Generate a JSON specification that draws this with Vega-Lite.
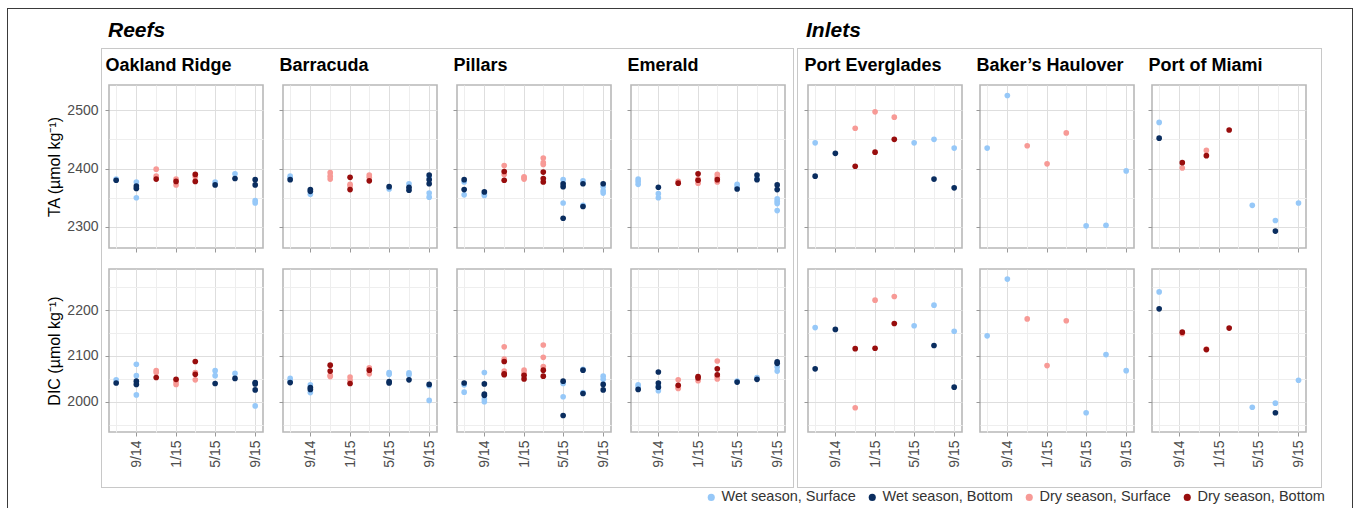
{
  "$schema": "https://vega.github.io/schema/vega-lite/v6.json",
  "padding": {"left": 7, "top": 8, "right": 0, "bottom": 0},
  "background": "white",
  "config": {
    "font": "Liberation Sans",
    "view": {"stroke": "#b8b8b8", "strokeWidth": 1.6},
    "axis": {"domain": false, "tickColor": "#999999", "tickSize": 4, "tickWidth": 1, "labelFontSize": 14, "labelColor": "#4d4d4d", "titleFontSize": 16, "titleFontWeight": "normal", "titleColor": "#000000", "gridWidth": 1, "labelFlush": false, "labelOverlap": false},
    "axisX": {"labelPadding": 4},
    "axisY": {"labelPadding": 6, "titlePadding": 4}
  },
  "datasets": {
    "pts": [
      {"site":"OR","param":"TA","date":"2014-07-01","type":"WS","value":2382},
      {"site":"OR","param":"TA","date":"2014-07-01","type":"WB","value":2380},
      {"site":"OR","param":"TA","date":"2014-09-01","type":"WS","value":2377},
      {"site":"OR","param":"TA","date":"2014-09-01","type":"WS","value":2350},
      {"site":"OR","param":"TA","date":"2014-09-01","type":"WB","value":2370},
      {"site":"OR","param":"TA","date":"2014-09-01","type":"WB","value":2366},
      {"site":"OR","param":"TA","date":"2014-11-01","type":"DS","value":2399},
      {"site":"OR","param":"TA","date":"2014-11-01","type":"DS","value":2387},
      {"site":"OR","param":"TA","date":"2014-11-01","type":"DB","value":2382},
      {"site":"OR","param":"TA","date":"2015-01-01","type":"DS","value":2382},
      {"site":"OR","param":"TA","date":"2015-01-01","type":"DS","value":2372},
      {"site":"OR","param":"TA","date":"2015-01-01","type":"DB","value":2378},
      {"site":"OR","param":"TA","date":"2015-03-01","type":"DS","value":2386},
      {"site":"OR","param":"TA","date":"2015-03-01","type":"DB","value":2390},
      {"site":"OR","param":"TA","date":"2015-03-01","type":"DB","value":2378},
      {"site":"OR","param":"TA","date":"2015-05-01","type":"WS","value":2377},
      {"site":"OR","param":"TA","date":"2015-05-01","type":"WB","value":2372},
      {"site":"OR","param":"TA","date":"2015-07-01","type":"WS","value":2391},
      {"site":"OR","param":"TA","date":"2015-07-01","type":"WB","value":2383},
      {"site":"OR","param":"TA","date":"2015-09-01","type":"WS","value":2345},
      {"site":"OR","param":"TA","date":"2015-09-01","type":"WS","value":2341},
      {"site":"OR","param":"TA","date":"2015-09-01","type":"WB","value":2381},
      {"site":"OR","param":"TA","date":"2015-09-01","type":"WB","value":2372},
      {"site":"BA","param":"TA","date":"2014-07-01","type":"WS","value":2387},
      {"site":"BA","param":"TA","date":"2014-07-01","type":"WS","value":2384},
      {"site":"BA","param":"TA","date":"2014-07-01","type":"WB","value":2381},
      {"site":"BA","param":"TA","date":"2014-09-01","type":"WS","value":2356},
      {"site":"BA","param":"TA","date":"2014-09-01","type":"WB","value":2364},
      {"site":"BA","param":"TA","date":"2014-09-01","type":"WB","value":2361},
      {"site":"BA","param":"TA","date":"2014-11-01","type":"DS","value":2393},
      {"site":"BA","param":"TA","date":"2014-11-01","type":"DS","value":2387},
      {"site":"BA","param":"TA","date":"2014-11-01","type":"DS","value":2382},
      {"site":"BA","param":"TA","date":"2015-01-01","type":"DS","value":2373},
      {"site":"BA","param":"TA","date":"2015-01-01","type":"DS","value":2370},
      {"site":"BA","param":"TA","date":"2015-01-01","type":"DB","value":2385},
      {"site":"BA","param":"TA","date":"2015-01-01","type":"DB","value":2364},
      {"site":"BA","param":"TA","date":"2015-03-01","type":"DS","value":2389},
      {"site":"BA","param":"TA","date":"2015-03-01","type":"DS","value":2385},
      {"site":"BA","param":"TA","date":"2015-03-01","type":"DB","value":2379},
      {"site":"BA","param":"TA","date":"2015-05-01","type":"WS","value":2365},
      {"site":"BA","param":"TA","date":"2015-05-01","type":"WB","value":2369},
      {"site":"BA","param":"TA","date":"2015-07-01","type":"WS","value":2374},
      {"site":"BA","param":"TA","date":"2015-07-01","type":"WB","value":2368},
      {"site":"BA","param":"TA","date":"2015-07-01","type":"WB","value":2363},
      {"site":"BA","param":"TA","date":"2015-09-01","type":"WS","value":2386},
      {"site":"BA","param":"TA","date":"2015-09-01","type":"WS","value":2358},
      {"site":"BA","param":"TA","date":"2015-09-01","type":"WS","value":2351},
      {"site":"BA","param":"TA","date":"2015-09-01","type":"WB","value":2389},
      {"site":"BA","param":"TA","date":"2015-09-01","type":"WB","value":2381},
      {"site":"BA","param":"TA","date":"2015-09-01","type":"WB","value":2374},
      {"site":"PI","param":"TA","date":"2014-07-01","type":"WS","value":2377},
      {"site":"PI","param":"TA","date":"2014-07-01","type":"WS","value":2355},
      {"site":"PI","param":"TA","date":"2014-07-01","type":"WB","value":2381},
      {"site":"PI","param":"TA","date":"2014-07-01","type":"WB","value":2364},
      {"site":"PI","param":"TA","date":"2014-09-01","type":"WS","value":2357},
      {"site":"PI","param":"TA","date":"2014-09-01","type":"WS","value":2354},
      {"site":"PI","param":"TA","date":"2014-09-01","type":"WB","value":2360},
      {"site":"PI","param":"TA","date":"2014-11-01","type":"DS","value":2405},
      {"site":"PI","param":"TA","date":"2014-11-01","type":"DS","value":2390},
      {"site":"PI","param":"TA","date":"2014-11-01","type":"DB","value":2395},
      {"site":"PI","param":"TA","date":"2014-11-01","type":"DB","value":2380},
      {"site":"PI","param":"TA","date":"2015-01-01","type":"DS","value":2386},
      {"site":"PI","param":"TA","date":"2015-01-01","type":"DS","value":2384},
      {"site":"PI","param":"TA","date":"2015-01-01","type":"DS","value":2382},
      {"site":"PI","param":"TA","date":"2015-03-01","type":"DS","value":2418},
      {"site":"PI","param":"TA","date":"2015-03-01","type":"DS","value":2410},
      {"site":"PI","param":"TA","date":"2015-03-01","type":"DS","value":2407},
      {"site":"PI","param":"TA","date":"2015-03-01","type":"DB","value":2394},
      {"site":"PI","param":"TA","date":"2015-03-01","type":"DB","value":2383},
      {"site":"PI","param":"TA","date":"2015-03-01","type":"DB","value":2377},
      {"site":"PI","param":"TA","date":"2015-05-01","type":"WS","value":2381},
      {"site":"PI","param":"TA","date":"2015-05-01","type":"WS","value":2341},
      {"site":"PI","param":"TA","date":"2015-05-01","type":"WB","value":2374},
      {"site":"PI","param":"TA","date":"2015-05-01","type":"WB","value":2369},
      {"site":"PI","param":"TA","date":"2015-05-01","type":"WB","value":2315},
      {"site":"PI","param":"TA","date":"2015-07-01","type":"WS","value":2379},
      {"site":"PI","param":"TA","date":"2015-07-01","type":"WS","value":2337},
      {"site":"PI","param":"TA","date":"2015-07-01","type":"WB","value":2374},
      {"site":"PI","param":"TA","date":"2015-07-01","type":"WB","value":2335},
      {"site":"PI","param":"TA","date":"2015-09-01","type":"WS","value":2369},
      {"site":"PI","param":"TA","date":"2015-09-01","type":"WS","value":2362},
      {"site":"PI","param":"TA","date":"2015-09-01","type":"WS","value":2358},
      {"site":"PI","param":"TA","date":"2015-09-01","type":"WB","value":2374},
      {"site":"EM","param":"TA","date":"2014-07-01","type":"WS","value":2382},
      {"site":"EM","param":"TA","date":"2014-07-01","type":"WS","value":2378},
      {"site":"EM","param":"TA","date":"2014-07-01","type":"WS","value":2373},
      {"site":"EM","param":"TA","date":"2014-09-01","type":"WS","value":2357},
      {"site":"EM","param":"TA","date":"2014-09-01","type":"WS","value":2350},
      {"site":"EM","param":"TA","date":"2014-09-01","type":"WB","value":2368},
      {"site":"EM","param":"TA","date":"2014-11-01","type":"DS","value":2378},
      {"site":"EM","param":"TA","date":"2014-11-01","type":"DB","value":2375},
      {"site":"EM","param":"TA","date":"2015-01-01","type":"DS","value":2382},
      {"site":"EM","param":"TA","date":"2015-01-01","type":"DS","value":2375},
      {"site":"EM","param":"TA","date":"2015-01-01","type":"DB","value":2391},
      {"site":"EM","param":"TA","date":"2015-01-01","type":"DB","value":2380},
      {"site":"EM","param":"TA","date":"2015-03-01","type":"DS","value":2390},
      {"site":"EM","param":"TA","date":"2015-03-01","type":"DS","value":2385},
      {"site":"EM","param":"TA","date":"2015-03-01","type":"DS","value":2377},
      {"site":"EM","param":"TA","date":"2015-03-01","type":"DB","value":2381},
      {"site":"EM","param":"TA","date":"2015-05-01","type":"WS","value":2373},
      {"site":"EM","param":"TA","date":"2015-05-01","type":"WS","value":2369},
      {"site":"EM","param":"TA","date":"2015-05-01","type":"WB","value":2365},
      {"site":"EM","param":"TA","date":"2015-07-01","type":"WS","value":2383},
      {"site":"EM","param":"TA","date":"2015-07-01","type":"WB","value":2389},
      {"site":"EM","param":"TA","date":"2015-07-01","type":"WB","value":2381},
      {"site":"EM","param":"TA","date":"2015-09-01","type":"WS","value":2348},
      {"site":"EM","param":"TA","date":"2015-09-01","type":"WS","value":2344},
      {"site":"EM","param":"TA","date":"2015-09-01","type":"WS","value":2340},
      {"site":"EM","param":"TA","date":"2015-09-01","type":"WS","value":2328},
      {"site":"EM","param":"TA","date":"2015-09-01","type":"WB","value":2372},
      {"site":"EM","param":"TA","date":"2015-09-01","type":"WB","value":2364},
      {"site":"PE","param":"TA","date":"2014-07-01","type":"WS","value":2444},
      {"site":"PE","param":"TA","date":"2014-07-01","type":"WB","value":2387},
      {"site":"PE","param":"TA","date":"2014-09-01","type":"WB","value":2426},
      {"site":"PE","param":"TA","date":"2014-11-01","type":"DS","value":2469},
      {"site":"PE","param":"TA","date":"2014-11-01","type":"DB","value":2404},
      {"site":"PE","param":"TA","date":"2015-01-01","type":"DS","value":2497},
      {"site":"PE","param":"TA","date":"2015-01-01","type":"DB","value":2428},
      {"site":"PE","param":"TA","date":"2015-03-01","type":"DS","value":2488},
      {"site":"PE","param":"TA","date":"2015-03-01","type":"DB","value":2450},
      {"site":"PE","param":"TA","date":"2015-05-01","type":"WS","value":2444},
      {"site":"PE","param":"TA","date":"2015-07-01","type":"WS","value":2450},
      {"site":"PE","param":"TA","date":"2015-07-01","type":"WB","value":2382},
      {"site":"PE","param":"TA","date":"2015-09-01","type":"WS","value":2435},
      {"site":"PE","param":"TA","date":"2015-09-01","type":"WB","value":2367},
      {"site":"BH","param":"TA","date":"2014-07-01","type":"WS","value":2435},
      {"site":"BH","param":"TA","date":"2014-09-01","type":"WS","value":2525},
      {"site":"BH","param":"TA","date":"2014-11-01","type":"DS","value":2439},
      {"site":"BH","param":"TA","date":"2015-01-01","type":"DS","value":2408},
      {"site":"BH","param":"TA","date":"2015-03-01","type":"DS","value":2461},
      {"site":"BH","param":"TA","date":"2015-05-01","type":"WS","value":2302},
      {"site":"BH","param":"TA","date":"2015-07-01","type":"WS","value":2303},
      {"site":"BH","param":"TA","date":"2015-09-01","type":"WS","value":2396},
      {"site":"PM","param":"TA","date":"2014-07-01","type":"WS","value":2479},
      {"site":"PM","param":"TA","date":"2014-07-01","type":"WB","value":2452},
      {"site":"PM","param":"TA","date":"2014-09-10","type":"DS","value":2401},
      {"site":"PM","param":"TA","date":"2014-09-10","type":"DB","value":2410},
      {"site":"PM","param":"TA","date":"2014-11-23","type":"DS","value":2431},
      {"site":"PM","param":"TA","date":"2014-11-23","type":"DB","value":2422},
      {"site":"PM","param":"TA","date":"2015-02-01","type":"DB","value":2466},
      {"site":"PM","param":"TA","date":"2015-04-13","type":"WS","value":2337},
      {"site":"PM","param":"TA","date":"2015-06-23","type":"WS","value":2311},
      {"site":"PM","param":"TA","date":"2015-06-23","type":"WB","value":2293},
      {"site":"PM","param":"TA","date":"2015-09-02","type":"WS","value":2341},
      {"site":"OR","param":"DIC","date":"2014-07-01","type":"WS","value":2048},
      {"site":"OR","param":"DIC","date":"2014-07-01","type":"WB","value":2041},
      {"site":"OR","param":"DIC","date":"2014-09-01","type":"WS","value":2082},
      {"site":"OR","param":"DIC","date":"2014-09-01","type":"WS","value":2057},
      {"site":"OR","param":"DIC","date":"2014-09-01","type":"WS","value":2015},
      {"site":"OR","param":"DIC","date":"2014-09-01","type":"WB","value":2045},
      {"site":"OR","param":"DIC","date":"2014-09-01","type":"WB","value":2038},
      {"site":"OR","param":"DIC","date":"2014-11-01","type":"DS","value":2068},
      {"site":"OR","param":"DIC","date":"2014-11-01","type":"DS","value":2064},
      {"site":"OR","param":"DIC","date":"2014-11-01","type":"DB","value":2053},
      {"site":"OR","param":"DIC","date":"2015-01-01","type":"DS","value":2044},
      {"site":"OR","param":"DIC","date":"2015-01-01","type":"DS","value":2038},
      {"site":"OR","param":"DIC","date":"2015-01-01","type":"DB","value":2049},
      {"site":"OR","param":"DIC","date":"2015-03-01","type":"DS","value":2064},
      {"site":"OR","param":"DIC","date":"2015-03-01","type":"DS","value":2048},
      {"site":"OR","param":"DIC","date":"2015-03-01","type":"DB","value":2088},
      {"site":"OR","param":"DIC","date":"2015-03-01","type":"DB","value":2060},
      {"site":"OR","param":"DIC","date":"2015-05-01","type":"WS","value":2068},
      {"site":"OR","param":"DIC","date":"2015-05-01","type":"WS","value":2057},
      {"site":"OR","param":"DIC","date":"2015-05-01","type":"WB","value":2040},
      {"site":"OR","param":"DIC","date":"2015-07-01","type":"WS","value":2062},
      {"site":"OR","param":"DIC","date":"2015-07-01","type":"WB","value":2051},
      {"site":"OR","param":"DIC","date":"2015-09-01","type":"WS","value":1991},
      {"site":"OR","param":"DIC","date":"2015-09-01","type":"WB","value":2042},
      {"site":"OR","param":"DIC","date":"2015-09-01","type":"WB","value":2039},
      {"site":"OR","param":"DIC","date":"2015-09-01","type":"WB","value":2026},
      {"site":"BA","param":"DIC","date":"2014-07-01","type":"WS","value":2051},
      {"site":"BA","param":"DIC","date":"2014-07-01","type":"WS","value":2046},
      {"site":"BA","param":"DIC","date":"2014-07-01","type":"WB","value":2042},
      {"site":"BA","param":"DIC","date":"2014-09-01","type":"WS","value":2037},
      {"site":"BA","param":"DIC","date":"2014-09-01","type":"WS","value":2020},
      {"site":"BA","param":"DIC","date":"2014-09-01","type":"WB","value":2031},
      {"site":"BA","param":"DIC","date":"2014-09-01","type":"WB","value":2027},
      {"site":"BA","param":"DIC","date":"2014-11-01","type":"DS","value":2055},
      {"site":"BA","param":"DIC","date":"2014-11-01","type":"DS","value":2058},
      {"site":"BA","param":"DIC","date":"2014-11-01","type":"DB","value":2080},
      {"site":"BA","param":"DIC","date":"2014-11-01","type":"DB","value":2067},
      {"site":"BA","param":"DIC","date":"2015-01-01","type":"DS","value":2054},
      {"site":"BA","param":"DIC","date":"2015-01-01","type":"DS","value":2047},
      {"site":"BA","param":"DIC","date":"2015-01-01","type":"DB","value":2040},
      {"site":"BA","param":"DIC","date":"2015-03-01","type":"DS","value":2074},
      {"site":"BA","param":"DIC","date":"2015-03-01","type":"DS","value":2061},
      {"site":"BA","param":"DIC","date":"2015-03-01","type":"DB","value":2069},
      {"site":"BA","param":"DIC","date":"2015-05-01","type":"WS","value":2064},
      {"site":"BA","param":"DIC","date":"2015-05-01","type":"WS","value":2060},
      {"site":"BA","param":"DIC","date":"2015-05-01","type":"WB","value":2044},
      {"site":"BA","param":"DIC","date":"2015-05-01","type":"WB","value":2041},
      {"site":"BA","param":"DIC","date":"2015-07-01","type":"WS","value":2063},
      {"site":"BA","param":"DIC","date":"2015-07-01","type":"WS","value":2059},
      {"site":"BA","param":"DIC","date":"2015-07-01","type":"WB","value":2048},
      {"site":"BA","param":"DIC","date":"2015-09-01","type":"WS","value":2035},
      {"site":"BA","param":"DIC","date":"2015-09-01","type":"WS","value":2003},
      {"site":"BA","param":"DIC","date":"2015-09-01","type":"WB","value":2038},
      {"site":"PI","param":"DIC","date":"2014-07-01","type":"WS","value":2037},
      {"site":"PI","param":"DIC","date":"2014-07-01","type":"WS","value":2021},
      {"site":"PI","param":"DIC","date":"2014-07-01","type":"WB","value":2041},
      {"site":"PI","param":"DIC","date":"2014-09-01","type":"WS","value":2064},
      {"site":"PI","param":"DIC","date":"2014-09-01","type":"WS","value":2006},
      {"site":"PI","param":"DIC","date":"2014-09-01","type":"WS","value":2000},
      {"site":"PI","param":"DIC","date":"2014-09-01","type":"WB","value":2039},
      {"site":"PI","param":"DIC","date":"2014-09-01","type":"WB","value":2017},
      {"site":"PI","param":"DIC","date":"2014-09-01","type":"WB","value":2014},
      {"site":"PI","param":"DIC","date":"2014-11-01","type":"DS","value":2120},
      {"site":"PI","param":"DIC","date":"2014-11-01","type":"DS","value":2093},
      {"site":"PI","param":"DIC","date":"2014-11-01","type":"DS","value":2067},
      {"site":"PI","param":"DIC","date":"2014-11-01","type":"DB","value":2088},
      {"site":"PI","param":"DIC","date":"2014-11-01","type":"DB","value":2061},
      {"site":"PI","param":"DIC","date":"2014-11-01","type":"DB","value":2059},
      {"site":"PI","param":"DIC","date":"2015-01-01","type":"DS","value":2069},
      {"site":"PI","param":"DIC","date":"2015-01-01","type":"DS","value":2062},
      {"site":"PI","param":"DIC","date":"2015-01-01","type":"DB","value":2058},
      {"site":"PI","param":"DIC","date":"2015-01-01","type":"DB","value":2050},
      {"site":"PI","param":"DIC","date":"2015-03-01","type":"DS","value":2124},
      {"site":"PI","param":"DIC","date":"2015-03-01","type":"DS","value":2097},
      {"site":"PI","param":"DIC","date":"2015-03-01","type":"DS","value":2077},
      {"site":"PI","param":"DIC","date":"2015-03-01","type":"DB","value":2069},
      {"site":"PI","param":"DIC","date":"2015-03-01","type":"DB","value":2056},
      {"site":"PI","param":"DIC","date":"2015-05-01","type":"WS","value":2040},
      {"site":"PI","param":"DIC","date":"2015-05-01","type":"WS","value":2011},
      {"site":"PI","param":"DIC","date":"2015-05-01","type":"WB","value":2045},
      {"site":"PI","param":"DIC","date":"2015-05-01","type":"WB","value":1970},
      {"site":"PI","param":"DIC","date":"2015-07-01","type":"WS","value":2071},
      {"site":"PI","param":"DIC","date":"2015-07-01","type":"WS","value":2020},
      {"site":"PI","param":"DIC","date":"2015-07-01","type":"WB","value":2069},
      {"site":"PI","param":"DIC","date":"2015-07-01","type":"WB","value":2018},
      {"site":"PI","param":"DIC","date":"2015-09-01","type":"WS","value":2056},
      {"site":"PI","param":"DIC","date":"2015-09-01","type":"WS","value":2049},
      {"site":"PI","param":"DIC","date":"2015-09-01","type":"WB","value":2038},
      {"site":"PI","param":"DIC","date":"2015-09-01","type":"WB","value":2026},
      {"site":"EM","param":"DIC","date":"2014-07-01","type":"WS","value":2037},
      {"site":"EM","param":"DIC","date":"2014-07-01","type":"WS","value":2033},
      {"site":"EM","param":"DIC","date":"2014-07-01","type":"WB","value":2027},
      {"site":"EM","param":"DIC","date":"2014-09-01","type":"WS","value":2034},
      {"site":"EM","param":"DIC","date":"2014-09-01","type":"WS","value":2024},
      {"site":"EM","param":"DIC","date":"2014-09-01","type":"WB","value":2065},
      {"site":"EM","param":"DIC","date":"2014-09-01","type":"WB","value":2041},
      {"site":"EM","param":"DIC","date":"2014-09-01","type":"WB","value":2032},
      {"site":"EM","param":"DIC","date":"2014-11-01","type":"DS","value":2048},
      {"site":"EM","param":"DIC","date":"2014-11-01","type":"DS","value":2032},
      {"site":"EM","param":"DIC","date":"2014-11-01","type":"DS","value":2029},
      {"site":"EM","param":"DIC","date":"2014-11-01","type":"DB","value":2036},
      {"site":"EM","param":"DIC","date":"2015-01-01","type":"DS","value":2046},
      {"site":"EM","param":"DIC","date":"2015-01-01","type":"DB","value":2055},
      {"site":"EM","param":"DIC","date":"2015-01-01","type":"DB","value":2052},
      {"site":"EM","param":"DIC","date":"2015-03-01","type":"DS","value":2089},
      {"site":"EM","param":"DIC","date":"2015-03-01","type":"DS","value":2055},
      {"site":"EM","param":"DIC","date":"2015-03-01","type":"DS","value":2050},
      {"site":"EM","param":"DIC","date":"2015-03-01","type":"DB","value":2072},
      {"site":"EM","param":"DIC","date":"2015-03-01","type":"DB","value":2059},
      {"site":"EM","param":"DIC","date":"2015-05-01","type":"WS","value":2045},
      {"site":"EM","param":"DIC","date":"2015-05-01","type":"WB","value":2043},
      {"site":"EM","param":"DIC","date":"2015-07-01","type":"WS","value":2053},
      {"site":"EM","param":"DIC","date":"2015-07-01","type":"WB","value":2049},
      {"site":"EM","param":"DIC","date":"2015-09-01","type":"WS","value":2076},
      {"site":"EM","param":"DIC","date":"2015-09-01","type":"WS","value":2067},
      {"site":"EM","param":"DIC","date":"2015-09-01","type":"WB","value":2087},
      {"site":"EM","param":"DIC","date":"2015-09-01","type":"WB","value":2084},
      {"site":"PE","param":"DIC","date":"2014-07-01","type":"WS","value":2162},
      {"site":"PE","param":"DIC","date":"2014-07-01","type":"WB","value":2072},
      {"site":"PE","param":"DIC","date":"2014-09-01","type":"WB","value":2158},
      {"site":"PE","param":"DIC","date":"2014-11-01","type":"DS","value":1987},
      {"site":"PE","param":"DIC","date":"2014-11-01","type":"DB","value":2116},
      {"site":"PE","param":"DIC","date":"2015-01-01","type":"DS","value":2222},
      {"site":"PE","param":"DIC","date":"2015-01-01","type":"DB","value":2117},
      {"site":"PE","param":"DIC","date":"2015-03-01","type":"DS","value":2230},
      {"site":"PE","param":"DIC","date":"2015-03-01","type":"DB","value":2171},
      {"site":"PE","param":"DIC","date":"2015-05-01","type":"WS","value":2166},
      {"site":"PE","param":"DIC","date":"2015-07-01","type":"WS","value":2211},
      {"site":"PE","param":"DIC","date":"2015-07-01","type":"WB","value":2123},
      {"site":"PE","param":"DIC","date":"2015-09-01","type":"WS","value":2154},
      {"site":"PE","param":"DIC","date":"2015-09-01","type":"WB","value":2032},
      {"site":"BH","param":"DIC","date":"2014-07-01","type":"WS","value":2144},
      {"site":"BH","param":"DIC","date":"2014-09-01","type":"WS","value":2268},
      {"site":"BH","param":"DIC","date":"2014-11-01","type":"DS","value":2181},
      {"site":"BH","param":"DIC","date":"2015-01-01","type":"DS","value":2079},
      {"site":"BH","param":"DIC","date":"2015-03-01","type":"DS","value":2177},
      {"site":"BH","param":"DIC","date":"2015-05-01","type":"WS","value":1976},
      {"site":"BH","param":"DIC","date":"2015-07-01","type":"WS","value":2103},
      {"site":"BH","param":"DIC","date":"2015-09-01","type":"WS","value":2068},
      {"site":"PM","param":"DIC","date":"2014-07-01","type":"WS","value":2240},
      {"site":"PM","param":"DIC","date":"2014-07-01","type":"WB","value":2203},
      {"site":"PM","param":"DIC","date":"2014-09-10","type":"DS","value":2149},
      {"site":"PM","param":"DIC","date":"2014-09-10","type":"DB","value":2152},
      {"site":"PM","param":"DIC","date":"2014-11-23","type":"DS","value":2115},
      {"site":"PM","param":"DIC","date":"2014-11-23","type":"DB","value":2114},
      {"site":"PM","param":"DIC","date":"2015-02-01","type":"DB","value":2161},
      {"site":"PM","param":"DIC","date":"2015-04-13","type":"WS","value":1988},
      {"site":"PM","param":"DIC","date":"2015-06-23","type":"WS","value":1997},
      {"site":"PM","param":"DIC","date":"2015-06-23","type":"WB","value":1976},
      {"site":"PM","param":"DIC","date":"2015-09-02","type":"WS","value":2047}
    ]
  },
  "bounds": "flush",
  "align": "each",
  "spacing": 0,
  "columns": 13,
  "concat": [
    {"width":94,"height":1,"data":{"values":[]},"mark":"point","view":{"stroke":null,"fill":"#3a3a3a"}},
    {"width":8,"height":1,"data":{"values":[]},"mark":"point","view":{"stroke":null,"fill":"#3a3a3a"}},
    {"width":174,"height":1,"data":{"values":[]},"mark":"point","view":{"stroke":null,"fill":"#3a3a3a"}},
    {"width":174,"height":1,"data":{"values":[]},"mark":"point","view":{"stroke":null,"fill":"#3a3a3a"}},
    {"width":174,"height":1,"data":{"values":[]},"mark":"point","view":{"stroke":null,"fill":"#3a3a3a"}},
    {"width":162,"height":1,"data":{"values":[]},"mark":"point","view":{"stroke":null,"fill":"#3a3a3a"}},
    {"width":4,"height":1,"data":{"values":[]},"mark":"point","view":{"stroke":null,"fill":"#3a3a3a"}},
    {"width":11,"height":1,"data":{"values":[]},"mark":"point","view":{"stroke":null,"fill":"#3a3a3a"}},
    {"width":172,"height":1,"data":{"values":[]},"mark":"point","view":{"stroke":null,"fill":"#3a3a3a"}},
    {"width":172,"height":1,"data":{"values":[]},"mark":"point","view":{"stroke":null,"fill":"#3a3a3a"}},
    {"width":169,"height":1,"data":{"values":[]},"mark":"point","view":{"stroke":null,"fill":"#3a3a3a"}},
    {"width":31,"height":1,"data":{"values":[]},"mark":"point","view":{"stroke":null,"fill":"#3a3a3a"}},
    {"width":1,"height":1,"data":{"values":[]},"mark":"point","view":{"stroke":null,"fill":"#3a3a3a"}},

    {"width":1,"height":39,"data":{"values":[]},"mark":"point","view":{"stroke":null,"fill":"#3a3a3a"}},
    {"width":1,"height":1,"data":{"values":[]},"mark":"point","view":{"stroke":null}},
    {"width":1,"height":1,"data":{"values":[]},"mark":"point","view":{"stroke":null}},
    {"width":1,"height":1,"data":{"values":[]},"mark":"point","view":{"stroke":null}},
    {"width":1,"height":1,"data":{"values":[]},"mark":"point","view":{"stroke":null}},
    {"width":1,"height":1,"data":{"values":[]},"mark":"point","view":{"stroke":null}},
    {"width":1,"height":1,"data":{"values":[]},"mark":"point","view":{"stroke":null}},
    {"width":1,"height":1,"data":{"values":[]},"mark":"point","view":{"stroke":null}},
    {"width":1,"height":1,"data":{"values":[]},"mark":"point","view":{"stroke":null}},
    {"width":1,"height":1,"data":{"values":[]},"mark":"point","view":{"stroke":null}},
    {"width":1,"height":1,"data":{"values":[]},"mark":"point","view":{"stroke":null}},
    {"width":1,"height":1,"data":{"values":[]},"mark":"point","view":{"stroke":null}},
    {"width":1,"height":39,"data":{"values":[]},"mark":"point","view":{"stroke":null,"fill":"#3a3a3a"}},

    {"width":1,"height":1,"data":{"values":[]},"mark":"point","view":{"stroke":null,"fill":"#3a3a3a"}},
    {"width":8,"height":1,"data":{"values":[]},"mark":"point","view":{"stroke":null,"fill":"#c8c8c8"},"title":{"text":"Reefs","anchor":"start","dx":7,"dy":20,"offset":10,"baseline":"alphabetic","fontSize":21,"fontWeight":"bold","fontStyle":"italic","color":"#000000","font":"Liberation Sans"}},
    {"width":174,"height":1,"data":{"values":[]},"mark":"point","view":{"stroke":null,"fill":"#c8c8c8"}},
    {"width":174,"height":1,"data":{"values":[]},"mark":"point","view":{"stroke":null,"fill":"#c8c8c8"}},
    {"width":174,"height":1,"data":{"values":[]},"mark":"point","view":{"stroke":null,"fill":"#c8c8c8"}},
    {"width":162,"height":1,"data":{"values":[]},"mark":"point","view":{"stroke":null,"fill":"#c8c8c8"}},
    {"width":1,"height":1,"data":{"values":[]},"mark":"point","view":{"stroke":null,"fill":"#c8c8c8"}},
    {"width":11,"height":1,"data":{"values":[]},"mark":"point","view":{"stroke":null,"fill":"#c8c8c8"},"title":{"text":"Inlets","anchor":"start","dx":9,"dy":20,"offset":10,"baseline":"alphabetic","fontSize":21,"fontWeight":"bold","fontStyle":"italic","color":"#000000","font":"Liberation Sans"}},
    {"width":172,"height":1,"data":{"values":[]},"mark":"point","view":{"stroke":null,"fill":"#c8c8c8"}},
    {"width":172,"height":1,"data":{"values":[]},"mark":"point","view":{"stroke":null,"fill":"#c8c8c8"}},
    {"width":169,"height":1,"data":{"values":[]},"mark":"point","view":{"stroke":null,"fill":"#c8c8c8"}},
    {"width":1,"height":1,"data":{"values":[]},"mark":"point","view":{"stroke":null,"fill":"#c8c8c8"}},
    {"width":1,"height":1,"data":{"values":[]},"mark":"point","view":{"stroke":null,"fill":"#3a3a3a"}},

    {"width":1,"height":36,"data":{"values":[]},"mark":"point","view":{"stroke":null,"fill":"#3a3a3a"}},
    {"width":1,"height":36,"data":{"values":[]},"mark":"point","view":{"stroke":null,"fill":"#c8c8c8"}},
    {"width":1,"height":1,"data":{"values":[]},"mark":"point","view":{"stroke":null}},
    {"width":1,"height":1,"data":{"values":[]},"mark":"point","view":{"stroke":null}},
    {"width":1,"height":1,"data":{"values":[]},"mark":"point","view":{"stroke":null}},
    {"width":1,"height":1,"data":{"values":[]},"mark":"point","view":{"stroke":null}},
    {"width":1,"height":36,"data":{"values":[]},"mark":"point","view":{"stroke":null,"fill":"#c8c8c8"}},
    {"width":1,"height":36,"data":{"values":[]},"mark":"point","view":{"stroke":null,"fill":"#c8c8c8"}},
    {"width":1,"height":1,"data":{"values":[]},"mark":"point","view":{"stroke":null}},
    {"width":1,"height":1,"data":{"values":[]},"mark":"point","view":{"stroke":null}},
    {"width":1,"height":1,"data":{"values":[]},"mark":"point","view":{"stroke":null}},
    {"width":1,"height":36,"data":{"values":[]},"mark":"point","view":{"stroke":null,"fill":"#c8c8c8"}},
    {"width":1,"height":36,"data":{"values":[]},"mark":"point","view":{"stroke":null,"fill":"#3a3a3a"}},

    {"width":1,"height":163,"data":{"values":[]},"mark":"point","view":{"stroke":null,"fill":"#3a3a3a"}},
    {"width":1,"height":163,"data":{"values":[]},"mark":"point","view":{"stroke":null,"fill":"#c8c8c8"},
     "encoding":{"y":{"field":"value","type":"quantitative","scale":{"domain":[2264,2543],"nice":false,"zero":false},"axis":{"values":[2300,2400,2500],"labelExpr":"format(datum.value, 'd')","ticks":false,"grid":false,"labelPadding":3,"title":"TA (µmol kg⁻¹)"}}}},
    {"width":154,"height":163,"title":{"text":"Oakland Ridge","anchor":"start","dx":1,"dy":17,"offset":13,"baseline":"alphabetic","fontSize":18,"fontWeight":"bold","color":"#000000"},"data":{"name":"pts"},"transform":[{"filter":"datum.site == 'OR' && datum.param == 'TA'"}],"mark":{"type":"circle","size":32,"opacity":1},
     "encoding":{
       "x":{"field":"date","type":"temporal","scale":{"type":"utc","domain":[{"year":2014,"month":6,"date":9,"utc":true},{"year":2015,"month":9,"date":25,"utc":true}]},"axis":{"values":[{"year":2014,"month":7,"date":1,"utc":true},{"year":2014,"month":9,"date":1,"utc":true},{"year":2014,"month":11,"date":1,"utc":true},{"year":2015,"month":1,"date":1,"utc":true},{"year":2015,"month":3,"date":1,"utc":true},{"year":2015,"month":5,"date":1,"utc":true},{"year":2015,"month":7,"date":1,"utc":true},{"year":2015,"month":9,"date":1,"utc":true}],"labels":false,"title":null,"tickOpacity":{"condition":{"test":"utcmonth(datum.value) % 4 == 0","value":1},"value":0},"gridColor":{"condition":{"test":"utcmonth(datum.value) % 4 == 0","value":"#dedede"},"value":"#eeeeee"}}},
       "y":{"field":"value","type":"quantitative","scale":{"domain":[2264,2543],"nice":false,"zero":false},"axis":{"values":[2300,2350,2400,2450,2500],"labels":false,"title":null,"tickOpacity":{"condition":{"test":"datum.value % 100 == 0","value":1},"value":0},"gridColor":{"condition":{"test":"datum.value % 100 == 0","value":"#dedede"},"value":"#eeeeee"}}},
       "color":{"field":"type","type":"nominal","title":null,"scale":{"domain":["WS","WB","DS","DB"],"range":["#96c8f8","#0a2d5f","#f79a96","#980d0d"]},"legend":{"orient":"none","legendX":697,"legendY":482,"direction":"horizontal","labelExpr":"datum.label == 'WS' ? 'Wet season, Surface' : datum.label == 'WB' ? 'Wet season, Bottom' : datum.label == 'DS' ? 'Dry season, Surface' : 'Dry season, Bottom'","symbolType":"circle","symbolSize":50,"symbolStrokeWidth":0,"labelFontSize":14.5,"labelColor":"#333333","columnPadding":9,"labelOffset":3}}}},
    {"width":154,"height":163,"title":{"text":"Barracuda","anchor":"start","dx":1,"dy":17,"offset":13,"baseline":"alphabetic","fontSize":18,"fontWeight":"bold","color":"#000000"},"data":{"name":"pts"},"transform":[{"filter":"datum.site == 'BA' && datum.param == 'TA'"}],"mark":{"type":"circle","size":32,"opacity":1},
     "encoding":{
       "x":{"field":"date","type":"temporal","scale":{"type":"utc","domain":[{"year":2014,"month":6,"date":9,"utc":true},{"year":2015,"month":9,"date":25,"utc":true}]},"axis":{"values":[{"year":2014,"month":7,"date":1,"utc":true},{"year":2014,"month":9,"date":1,"utc":true},{"year":2014,"month":11,"date":1,"utc":true},{"year":2015,"month":1,"date":1,"utc":true},{"year":2015,"month":3,"date":1,"utc":true},{"year":2015,"month":5,"date":1,"utc":true},{"year":2015,"month":7,"date":1,"utc":true},{"year":2015,"month":9,"date":1,"utc":true}],"labels":false,"title":null,"tickOpacity":{"condition":{"test":"utcmonth(datum.value) % 4 == 0","value":1},"value":0},"gridColor":{"condition":{"test":"utcmonth(datum.value) % 4 == 0","value":"#dedede"},"value":"#eeeeee"}}},
       "y":{"field":"value","type":"quantitative","scale":{"domain":[2264,2543],"nice":false,"zero":false},"axis":{"values":[2300,2350,2400,2450,2500],"labels":false,"title":null,"tickOpacity":{"condition":{"test":"datum.value % 100 == 0","value":1},"value":0},"gridColor":{"condition":{"test":"datum.value % 100 == 0","value":"#dedede"},"value":"#eeeeee"}}},
       "color":{"field":"type","type":"nominal","title":null,"scale":{"domain":["WS","WB","DS","DB"],"range":["#96c8f8","#0a2d5f","#f79a96","#980d0d"]},"legend":{"orient":"none","legendX":697,"legendY":482,"direction":"horizontal","labelExpr":"datum.label == 'WS' ? 'Wet season, Surface' : datum.label == 'WB' ? 'Wet season, Bottom' : datum.label == 'DS' ? 'Dry season, Surface' : 'Dry season, Bottom'","symbolType":"circle","symbolSize":50,"symbolStrokeWidth":0,"labelFontSize":14.5,"labelColor":"#333333","columnPadding":9,"labelOffset":3}}}},
    {"width":154,"height":163,"title":{"text":"Pillars","anchor":"start","dx":1,"dy":17,"offset":13,"baseline":"alphabetic","fontSize":18,"fontWeight":"bold","color":"#000000"},"data":{"name":"pts"},"transform":[{"filter":"datum.site == 'PI' && datum.param == 'TA'"}],"mark":{"type":"circle","size":32,"opacity":1},
     "encoding":{
       "x":{"field":"date","type":"temporal","scale":{"type":"utc","domain":[{"year":2014,"month":6,"date":9,"utc":true},{"year":2015,"month":9,"date":25,"utc":true}]},"axis":{"values":[{"year":2014,"month":7,"date":1,"utc":true},{"year":2014,"month":9,"date":1,"utc":true},{"year":2014,"month":11,"date":1,"utc":true},{"year":2015,"month":1,"date":1,"utc":true},{"year":2015,"month":3,"date":1,"utc":true},{"year":2015,"month":5,"date":1,"utc":true},{"year":2015,"month":7,"date":1,"utc":true},{"year":2015,"month":9,"date":1,"utc":true}],"labels":false,"title":null,"tickOpacity":{"condition":{"test":"utcmonth(datum.value) % 4 == 0","value":1},"value":0},"gridColor":{"condition":{"test":"utcmonth(datum.value) % 4 == 0","value":"#dedede"},"value":"#eeeeee"}}},
       "y":{"field":"value","type":"quantitative","scale":{"domain":[2264,2543],"nice":false,"zero":false},"axis":{"values":[2300,2350,2400,2450,2500],"labels":false,"title":null,"tickOpacity":{"condition":{"test":"datum.value % 100 == 0","value":1},"value":0},"gridColor":{"condition":{"test":"datum.value % 100 == 0","value":"#dedede"},"value":"#eeeeee"}}},
       "color":{"field":"type","type":"nominal","title":null,"scale":{"domain":["WS","WB","DS","DB"],"range":["#96c8f8","#0a2d5f","#f79a96","#980d0d"]},"legend":{"orient":"none","legendX":697,"legendY":482,"direction":"horizontal","labelExpr":"datum.label == 'WS' ? 'Wet season, Surface' : datum.label == 'WB' ? 'Wet season, Bottom' : datum.label == 'DS' ? 'Dry season, Surface' : 'Dry season, Bottom'","symbolType":"circle","symbolSize":50,"symbolStrokeWidth":0,"labelFontSize":14.5,"labelColor":"#333333","columnPadding":9,"labelOffset":3}}}},
    {"width":154,"height":163,"title":{"text":"Emerald","anchor":"start","dx":1,"dy":17,"offset":13,"baseline":"alphabetic","fontSize":18,"fontWeight":"bold","color":"#000000"},"data":{"name":"pts"},"transform":[{"filter":"datum.site == 'EM' && datum.param == 'TA'"}],"mark":{"type":"circle","size":32,"opacity":1},
     "encoding":{
       "x":{"field":"date","type":"temporal","scale":{"type":"utc","domain":[{"year":2014,"month":6,"date":9,"utc":true},{"year":2015,"month":9,"date":25,"utc":true}]},"axis":{"values":[{"year":2014,"month":7,"date":1,"utc":true},{"year":2014,"month":9,"date":1,"utc":true},{"year":2014,"month":11,"date":1,"utc":true},{"year":2015,"month":1,"date":1,"utc":true},{"year":2015,"month":3,"date":1,"utc":true},{"year":2015,"month":5,"date":1,"utc":true},{"year":2015,"month":7,"date":1,"utc":true},{"year":2015,"month":9,"date":1,"utc":true}],"labels":false,"title":null,"tickOpacity":{"condition":{"test":"utcmonth(datum.value) % 4 == 0","value":1},"value":0},"gridColor":{"condition":{"test":"utcmonth(datum.value) % 4 == 0","value":"#dedede"},"value":"#eeeeee"}}},
       "y":{"field":"value","type":"quantitative","scale":{"domain":[2264,2543],"nice":false,"zero":false},"axis":{"values":[2300,2350,2400,2450,2500],"labels":false,"title":null,"tickOpacity":{"condition":{"test":"datum.value % 100 == 0","value":1},"value":0},"gridColor":{"condition":{"test":"datum.value % 100 == 0","value":"#dedede"},"value":"#eeeeee"}}},
       "color":{"field":"type","type":"nominal","title":null,"scale":{"domain":["WS","WB","DS","DB"],"range":["#96c8f8","#0a2d5f","#f79a96","#980d0d"]},"legend":{"orient":"none","legendX":697,"legendY":482,"direction":"horizontal","labelExpr":"datum.label == 'WS' ? 'Wet season, Surface' : datum.label == 'WB' ? 'Wet season, Bottom' : datum.label == 'DS' ? 'Dry season, Surface' : 'Dry season, Bottom'","symbolType":"circle","symbolSize":50,"symbolStrokeWidth":0,"labelFontSize":14.5,"labelColor":"#333333","columnPadding":9,"labelOffset":3}}}},
    {"width":1,"height":163,"data":{"values":[]},"mark":"point","view":{"stroke":null,"fill":"#c8c8c8"}},
    {"width":1,"height":163,"data":{"values":[]},"mark":"point","view":{"stroke":null,"fill":"#c8c8c8"}},
    {"width":154,"height":163,"title":{"text":"Port Everglades","anchor":"start","dx":1,"dy":17,"offset":13,"baseline":"alphabetic","fontSize":18,"fontWeight":"bold","color":"#000000"},"data":{"name":"pts"},"transform":[{"filter":"datum.site == 'PE' && datum.param == 'TA'"}],"mark":{"type":"circle","size":32,"opacity":1},
     "encoding":{
       "x":{"field":"date","type":"temporal","scale":{"type":"utc","domain":[{"year":2014,"month":6,"date":9,"utc":true},{"year":2015,"month":9,"date":25,"utc":true}]},"axis":{"values":[{"year":2014,"month":7,"date":1,"utc":true},{"year":2014,"month":9,"date":1,"utc":true},{"year":2014,"month":11,"date":1,"utc":true},{"year":2015,"month":1,"date":1,"utc":true},{"year":2015,"month":3,"date":1,"utc":true},{"year":2015,"month":5,"date":1,"utc":true},{"year":2015,"month":7,"date":1,"utc":true},{"year":2015,"month":9,"date":1,"utc":true}],"labels":false,"title":null,"tickOpacity":{"condition":{"test":"utcmonth(datum.value) % 4 == 0","value":1},"value":0},"gridColor":{"condition":{"test":"utcmonth(datum.value) % 4 == 0","value":"#dedede"},"value":"#eeeeee"}}},
       "y":{"field":"value","type":"quantitative","scale":{"domain":[2264,2543],"nice":false,"zero":false},"axis":{"values":[2300,2350,2400,2450,2500],"labels":false,"title":null,"tickOpacity":{"condition":{"test":"datum.value % 100 == 0","value":1},"value":0},"gridColor":{"condition":{"test":"datum.value % 100 == 0","value":"#dedede"},"value":"#eeeeee"}}},
       "color":{"field":"type","type":"nominal","title":null,"scale":{"domain":["WS","WB","DS","DB"],"range":["#96c8f8","#0a2d5f","#f79a96","#980d0d"]},"legend":{"orient":"none","legendX":697,"legendY":482,"direction":"horizontal","labelExpr":"datum.label == 'WS' ? 'Wet season, Surface' : datum.label == 'WB' ? 'Wet season, Bottom' : datum.label == 'DS' ? 'Dry season, Surface' : 'Dry season, Bottom'","symbolType":"circle","symbolSize":50,"symbolStrokeWidth":0,"labelFontSize":14.5,"labelColor":"#333333","columnPadding":9,"labelOffset":3}}}},
    {"width":154,"height":163,"title":{"text":"Baker’s Haulover","anchor":"start","dx":1,"dy":17,"offset":13,"baseline":"alphabetic","fontSize":18,"fontWeight":"bold","color":"#000000"},"data":{"name":"pts"},"transform":[{"filter":"datum.site == 'BH' && datum.param == 'TA'"}],"mark":{"type":"circle","size":32,"opacity":1},
     "encoding":{
       "x":{"field":"date","type":"temporal","scale":{"type":"utc","domain":[{"year":2014,"month":6,"date":9,"utc":true},{"year":2015,"month":9,"date":25,"utc":true}]},"axis":{"values":[{"year":2014,"month":7,"date":1,"utc":true},{"year":2014,"month":9,"date":1,"utc":true},{"year":2014,"month":11,"date":1,"utc":true},{"year":2015,"month":1,"date":1,"utc":true},{"year":2015,"month":3,"date":1,"utc":true},{"year":2015,"month":5,"date":1,"utc":true},{"year":2015,"month":7,"date":1,"utc":true},{"year":2015,"month":9,"date":1,"utc":true}],"labels":false,"title":null,"tickOpacity":{"condition":{"test":"utcmonth(datum.value) % 4 == 0","value":1},"value":0},"gridColor":{"condition":{"test":"utcmonth(datum.value) % 4 == 0","value":"#dedede"},"value":"#eeeeee"}}},
       "y":{"field":"value","type":"quantitative","scale":{"domain":[2264,2543],"nice":false,"zero":false},"axis":{"values":[2300,2350,2400,2450,2500],"labels":false,"title":null,"tickOpacity":{"condition":{"test":"datum.value % 100 == 0","value":1},"value":0},"gridColor":{"condition":{"test":"datum.value % 100 == 0","value":"#dedede"},"value":"#eeeeee"}}},
       "color":{"field":"type","type":"nominal","title":null,"scale":{"domain":["WS","WB","DS","DB"],"range":["#96c8f8","#0a2d5f","#f79a96","#980d0d"]},"legend":{"orient":"none","legendX":697,"legendY":482,"direction":"horizontal","labelExpr":"datum.label == 'WS' ? 'Wet season, Surface' : datum.label == 'WB' ? 'Wet season, Bottom' : datum.label == 'DS' ? 'Dry season, Surface' : 'Dry season, Bottom'","symbolType":"circle","symbolSize":50,"symbolStrokeWidth":0,"labelFontSize":14.5,"labelColor":"#333333","columnPadding":9,"labelOffset":3}}}},
    {"width":154,"height":163,"title":{"text":"Port of Miami","anchor":"start","dx":1,"dy":17,"offset":13,"baseline":"alphabetic","fontSize":18,"fontWeight":"bold","color":"#000000"},"data":{"name":"pts"},"transform":[{"filter":"datum.site == 'PM' && datum.param == 'TA'"}],"mark":{"type":"circle","size":32,"opacity":1},
     "encoding":{
       "x":{"field":"date","type":"temporal","scale":{"type":"utc","domain":[{"year":2014,"month":6,"date":9,"utc":true},{"year":2015,"month":9,"date":25,"utc":true}]},"axis":{"values":[{"year":2014,"month":7,"date":1,"utc":true},{"year":2014,"month":9,"date":1,"utc":true},{"year":2014,"month":11,"date":1,"utc":true},{"year":2015,"month":1,"date":1,"utc":true},{"year":2015,"month":3,"date":1,"utc":true},{"year":2015,"month":5,"date":1,"utc":true},{"year":2015,"month":7,"date":1,"utc":true},{"year":2015,"month":9,"date":1,"utc":true}],"labels":false,"title":null,"tickOpacity":{"condition":{"test":"utcmonth(datum.value) % 4 == 0","value":1},"value":0},"gridColor":{"condition":{"test":"utcmonth(datum.value) % 4 == 0","value":"#dedede"},"value":"#eeeeee"}}},
       "y":{"field":"value","type":"quantitative","scale":{"domain":[2264,2543],"nice":false,"zero":false},"axis":{"values":[2300,2350,2400,2450,2500],"labels":false,"title":null,"tickOpacity":{"condition":{"test":"datum.value % 100 == 0","value":1},"value":0},"gridColor":{"condition":{"test":"datum.value % 100 == 0","value":"#dedede"},"value":"#eeeeee"}}},
       "color":{"field":"type","type":"nominal","title":null,"scale":{"domain":["WS","WB","DS","DB"],"range":["#96c8f8","#0a2d5f","#f79a96","#980d0d"]},"legend":{"orient":"none","legendX":697,"legendY":482,"direction":"horizontal","labelExpr":"datum.label == 'WS' ? 'Wet season, Surface' : datum.label == 'WB' ? 'Wet season, Bottom' : datum.label == 'DS' ? 'Dry season, Surface' : 'Dry season, Bottom'","symbolType":"circle","symbolSize":50,"symbolStrokeWidth":0,"labelFontSize":14.5,"labelColor":"#333333","columnPadding":9,"labelOffset":3}}}},
    {"width":1,"height":163,"data":{"values":[]},"mark":"point","view":{"stroke":null,"fill":"#c8c8c8"}},
    {"width":1,"height":163,"data":{"values":[]},"mark":"point","view":{"stroke":null,"fill":"#3a3a3a"}},

    {"width":1,"height":21,"data":{"values":[]},"mark":"point","view":{"stroke":null,"fill":"#3a3a3a"}},
    {"width":1,"height":21,"data":{"values":[]},"mark":"point","view":{"stroke":null,"fill":"#c8c8c8"}},
    {"width":1,"height":1,"data":{"values":[]},"mark":"point","view":{"stroke":null}},
    {"width":1,"height":1,"data":{"values":[]},"mark":"point","view":{"stroke":null}},
    {"width":1,"height":1,"data":{"values":[]},"mark":"point","view":{"stroke":null}},
    {"width":1,"height":1,"data":{"values":[]},"mark":"point","view":{"stroke":null}},
    {"width":1,"height":21,"data":{"values":[]},"mark":"point","view":{"stroke":null,"fill":"#c8c8c8"}},
    {"width":1,"height":21,"data":{"values":[]},"mark":"point","view":{"stroke":null,"fill":"#c8c8c8"}},
    {"width":1,"height":1,"data":{"values":[]},"mark":"point","view":{"stroke":null}},
    {"width":1,"height":1,"data":{"values":[]},"mark":"point","view":{"stroke":null}},
    {"width":1,"height":1,"data":{"values":[]},"mark":"point","view":{"stroke":null}},
    {"width":1,"height":21,"data":{"values":[]},"mark":"point","view":{"stroke":null,"fill":"#c8c8c8"}},
    {"width":1,"height":21,"data":{"values":[]},"mark":"point","view":{"stroke":null,"fill":"#3a3a3a"}},

    {"width":1,"height":163,"data":{"values":[]},"mark":"point","view":{"stroke":null,"fill":"#3a3a3a"}},
    {"width":1,"height":163,"data":{"values":[]},"mark":"point","view":{"stroke":null,"fill":"#c8c8c8"},
     "encoding":{"y":{"field":"value","type":"quantitative","scale":{"domain":[1934,2290],"nice":false,"zero":false},"axis":{"values":[2000,2100,2200],"labelExpr":"format(datum.value, 'd')","ticks":false,"grid":false,"labelPadding":3,"title":"DIC (µmol kg⁻¹)"}}}},
    {"width":154,"height":163,"data":{"name":"pts"},"transform":[{"filter":"datum.site == 'OR' && datum.param == 'DIC'"}],"mark":{"type":"circle","size":32,"opacity":1},
     "encoding":{
       "x":{"field":"date","type":"temporal","scale":{"type":"utc","domain":[{"year":2014,"month":6,"date":9,"utc":true},{"year":2015,"month":9,"date":25,"utc":true}]},"axis":{"values":[{"year":2014,"month":7,"date":1,"utc":true},{"year":2014,"month":9,"date":1,"utc":true},{"year":2014,"month":11,"date":1,"utc":true},{"year":2015,"month":1,"date":1,"utc":true},{"year":2015,"month":3,"date":1,"utc":true},{"year":2015,"month":5,"date":1,"utc":true},{"year":2015,"month":7,"date":1,"utc":true},{"year":2015,"month":9,"date":1,"utc":true}],"labelAngle":270,"labelExpr":"utcmonth(datum.value) % 4 == 0 ? utcFormat(datum.value, '%-m/%y') : ''","title":null,"tickOpacity":{"condition":{"test":"utcmonth(datum.value) % 4 == 0","value":1},"value":0},"gridColor":{"condition":{"test":"utcmonth(datum.value) % 4 == 0","value":"#dedede"},"value":"#eeeeee"}}},
       "y":{"field":"value","type":"quantitative","scale":{"domain":[1934,2290],"nice":false,"zero":false},"axis":{"values":[1950,2000,2050,2100,2150,2200,2250],"labels":false,"title":null,"tickOpacity":{"condition":{"test":"datum.value % 100 == 0","value":1},"value":0},"gridColor":{"condition":{"test":"datum.value % 100 == 0","value":"#dedede"},"value":"#eeeeee"}}},
       "color":{"field":"type","type":"nominal","title":null,"scale":{"domain":["WS","WB","DS","DB"],"range":["#96c8f8","#0a2d5f","#f79a96","#980d0d"]},"legend":{"orient":"none","legendX":697,"legendY":482,"direction":"horizontal","labelExpr":"datum.label == 'WS' ? 'Wet season, Surface' : datum.label == 'WB' ? 'Wet season, Bottom' : datum.label == 'DS' ? 'Dry season, Surface' : 'Dry season, Bottom'","symbolType":"circle","symbolSize":50,"symbolStrokeWidth":0,"labelFontSize":14.5,"labelColor":"#333333","columnPadding":9,"labelOffset":3}}}},
    {"width":154,"height":163,"data":{"name":"pts"},"transform":[{"filter":"datum.site == 'BA' && datum.param == 'DIC'"}],"mark":{"type":"circle","size":32,"opacity":1},
     "encoding":{
       "x":{"field":"date","type":"temporal","scale":{"type":"utc","domain":[{"year":2014,"month":6,"date":9,"utc":true},{"year":2015,"month":9,"date":25,"utc":true}]},"axis":{"values":[{"year":2014,"month":7,"date":1,"utc":true},{"year":2014,"month":9,"date":1,"utc":true},{"year":2014,"month":11,"date":1,"utc":true},{"year":2015,"month":1,"date":1,"utc":true},{"year":2015,"month":3,"date":1,"utc":true},{"year":2015,"month":5,"date":1,"utc":true},{"year":2015,"month":7,"date":1,"utc":true},{"year":2015,"month":9,"date":1,"utc":true}],"labelAngle":270,"labelExpr":"utcmonth(datum.value) % 4 == 0 ? utcFormat(datum.value, '%-m/%y') : ''","title":null,"tickOpacity":{"condition":{"test":"utcmonth(datum.value) % 4 == 0","value":1},"value":0},"gridColor":{"condition":{"test":"utcmonth(datum.value) % 4 == 0","value":"#dedede"},"value":"#eeeeee"}}},
       "y":{"field":"value","type":"quantitative","scale":{"domain":[1934,2290],"nice":false,"zero":false},"axis":{"values":[1950,2000,2050,2100,2150,2200,2250],"labels":false,"title":null,"tickOpacity":{"condition":{"test":"datum.value % 100 == 0","value":1},"value":0},"gridColor":{"condition":{"test":"datum.value % 100 == 0","value":"#dedede"},"value":"#eeeeee"}}},
       "color":{"field":"type","type":"nominal","title":null,"scale":{"domain":["WS","WB","DS","DB"],"range":["#96c8f8","#0a2d5f","#f79a96","#980d0d"]},"legend":{"orient":"none","legendX":697,"legendY":482,"direction":"horizontal","labelExpr":"datum.label == 'WS' ? 'Wet season, Surface' : datum.label == 'WB' ? 'Wet season, Bottom' : datum.label == 'DS' ? 'Dry season, Surface' : 'Dry season, Bottom'","symbolType":"circle","symbolSize":50,"symbolStrokeWidth":0,"labelFontSize":14.5,"labelColor":"#333333","columnPadding":9,"labelOffset":3}}}},
    {"width":154,"height":163,"data":{"name":"pts"},"transform":[{"filter":"datum.site == 'PI' && datum.param == 'DIC'"}],"mark":{"type":"circle","size":32,"opacity":1},
     "encoding":{
       "x":{"field":"date","type":"temporal","scale":{"type":"utc","domain":[{"year":2014,"month":6,"date":9,"utc":true},{"year":2015,"month":9,"date":25,"utc":true}]},"axis":{"values":[{"year":2014,"month":7,"date":1,"utc":true},{"year":2014,"month":9,"date":1,"utc":true},{"year":2014,"month":11,"date":1,"utc":true},{"year":2015,"month":1,"date":1,"utc":true},{"year":2015,"month":3,"date":1,"utc":true},{"year":2015,"month":5,"date":1,"utc":true},{"year":2015,"month":7,"date":1,"utc":true},{"year":2015,"month":9,"date":1,"utc":true}],"labelAngle":270,"labelExpr":"utcmonth(datum.value) % 4 == 0 ? utcFormat(datum.value, '%-m/%y') : ''","title":null,"tickOpacity":{"condition":{"test":"utcmonth(datum.value) % 4 == 0","value":1},"value":0},"gridColor":{"condition":{"test":"utcmonth(datum.value) % 4 == 0","value":"#dedede"},"value":"#eeeeee"}}},
       "y":{"field":"value","type":"quantitative","scale":{"domain":[1934,2290],"nice":false,"zero":false},"axis":{"values":[1950,2000,2050,2100,2150,2200,2250],"labels":false,"title":null,"tickOpacity":{"condition":{"test":"datum.value % 100 == 0","value":1},"value":0},"gridColor":{"condition":{"test":"datum.value % 100 == 0","value":"#dedede"},"value":"#eeeeee"}}},
       "color":{"field":"type","type":"nominal","title":null,"scale":{"domain":["WS","WB","DS","DB"],"range":["#96c8f8","#0a2d5f","#f79a96","#980d0d"]},"legend":{"orient":"none","legendX":697,"legendY":482,"direction":"horizontal","labelExpr":"datum.label == 'WS' ? 'Wet season, Surface' : datum.label == 'WB' ? 'Wet season, Bottom' : datum.label == 'DS' ? 'Dry season, Surface' : 'Dry season, Bottom'","symbolType":"circle","symbolSize":50,"symbolStrokeWidth":0,"labelFontSize":14.5,"labelColor":"#333333","columnPadding":9,"labelOffset":3}}}},
    {"width":154,"height":163,"data":{"name":"pts"},"transform":[{"filter":"datum.site == 'EM' && datum.param == 'DIC'"}],"mark":{"type":"circle","size":32,"opacity":1},
     "encoding":{
       "x":{"field":"date","type":"temporal","scale":{"type":"utc","domain":[{"year":2014,"month":6,"date":9,"utc":true},{"year":2015,"month":9,"date":25,"utc":true}]},"axis":{"values":[{"year":2014,"month":7,"date":1,"utc":true},{"year":2014,"month":9,"date":1,"utc":true},{"year":2014,"month":11,"date":1,"utc":true},{"year":2015,"month":1,"date":1,"utc":true},{"year":2015,"month":3,"date":1,"utc":true},{"year":2015,"month":5,"date":1,"utc":true},{"year":2015,"month":7,"date":1,"utc":true},{"year":2015,"month":9,"date":1,"utc":true}],"labelAngle":270,"labelExpr":"utcmonth(datum.value) % 4 == 0 ? utcFormat(datum.value, '%-m/%y') : ''","title":null,"tickOpacity":{"condition":{"test":"utcmonth(datum.value) % 4 == 0","value":1},"value":0},"gridColor":{"condition":{"test":"utcmonth(datum.value) % 4 == 0","value":"#dedede"},"value":"#eeeeee"}}},
       "y":{"field":"value","type":"quantitative","scale":{"domain":[1934,2290],"nice":false,"zero":false},"axis":{"values":[1950,2000,2050,2100,2150,2200,2250],"labels":false,"title":null,"tickOpacity":{"condition":{"test":"datum.value % 100 == 0","value":1},"value":0},"gridColor":{"condition":{"test":"datum.value % 100 == 0","value":"#dedede"},"value":"#eeeeee"}}},
       "color":{"field":"type","type":"nominal","title":null,"scale":{"domain":["WS","WB","DS","DB"],"range":["#96c8f8","#0a2d5f","#f79a96","#980d0d"]},"legend":{"orient":"none","legendX":697,"legendY":482,"direction":"horizontal","labelExpr":"datum.label == 'WS' ? 'Wet season, Surface' : datum.label == 'WB' ? 'Wet season, Bottom' : datum.label == 'DS' ? 'Dry season, Surface' : 'Dry season, Bottom'","symbolType":"circle","symbolSize":50,"symbolStrokeWidth":0,"labelFontSize":14.5,"labelColor":"#333333","columnPadding":9,"labelOffset":3}}}},
    {"width":1,"height":163,"data":{"values":[]},"mark":"point","view":{"stroke":null,"fill":"#c8c8c8"}},
    {"width":1,"height":163,"data":{"values":[]},"mark":"point","view":{"stroke":null,"fill":"#c8c8c8"}},
    {"width":154,"height":163,"data":{"name":"pts"},"transform":[{"filter":"datum.site == 'PE' && datum.param == 'DIC'"}],"mark":{"type":"circle","size":32,"opacity":1},
     "encoding":{
       "x":{"field":"date","type":"temporal","scale":{"type":"utc","domain":[{"year":2014,"month":6,"date":9,"utc":true},{"year":2015,"month":9,"date":25,"utc":true}]},"axis":{"values":[{"year":2014,"month":7,"date":1,"utc":true},{"year":2014,"month":9,"date":1,"utc":true},{"year":2014,"month":11,"date":1,"utc":true},{"year":2015,"month":1,"date":1,"utc":true},{"year":2015,"month":3,"date":1,"utc":true},{"year":2015,"month":5,"date":1,"utc":true},{"year":2015,"month":7,"date":1,"utc":true},{"year":2015,"month":9,"date":1,"utc":true}],"labelAngle":270,"labelExpr":"utcmonth(datum.value) % 4 == 0 ? utcFormat(datum.value, '%-m/%y') : ''","title":null,"tickOpacity":{"condition":{"test":"utcmonth(datum.value) % 4 == 0","value":1},"value":0},"gridColor":{"condition":{"test":"utcmonth(datum.value) % 4 == 0","value":"#dedede"},"value":"#eeeeee"}}},
       "y":{"field":"value","type":"quantitative","scale":{"domain":[1934,2290],"nice":false,"zero":false},"axis":{"values":[1950,2000,2050,2100,2150,2200,2250],"labels":false,"title":null,"tickOpacity":{"condition":{"test":"datum.value % 100 == 0","value":1},"value":0},"gridColor":{"condition":{"test":"datum.value % 100 == 0","value":"#dedede"},"value":"#eeeeee"}}},
       "color":{"field":"type","type":"nominal","title":null,"scale":{"domain":["WS","WB","DS","DB"],"range":["#96c8f8","#0a2d5f","#f79a96","#980d0d"]},"legend":{"orient":"none","legendX":697,"legendY":482,"direction":"horizontal","labelExpr":"datum.label == 'WS' ? 'Wet season, Surface' : datum.label == 'WB' ? 'Wet season, Bottom' : datum.label == 'DS' ? 'Dry season, Surface' : 'Dry season, Bottom'","symbolType":"circle","symbolSize":50,"symbolStrokeWidth":0,"labelFontSize":14.5,"labelColor":"#333333","columnPadding":9,"labelOffset":3}}}},
    {"width":154,"height":163,"data":{"name":"pts"},"transform":[{"filter":"datum.site == 'BH' && datum.param == 'DIC'"}],"mark":{"type":"circle","size":32,"opacity":1},
     "encoding":{
       "x":{"field":"date","type":"temporal","scale":{"type":"utc","domain":[{"year":2014,"month":6,"date":9,"utc":true},{"year":2015,"month":9,"date":25,"utc":true}]},"axis":{"values":[{"year":2014,"month":7,"date":1,"utc":true},{"year":2014,"month":9,"date":1,"utc":true},{"year":2014,"month":11,"date":1,"utc":true},{"year":2015,"month":1,"date":1,"utc":true},{"year":2015,"month":3,"date":1,"utc":true},{"year":2015,"month":5,"date":1,"utc":true},{"year":2015,"month":7,"date":1,"utc":true},{"year":2015,"month":9,"date":1,"utc":true}],"labelAngle":270,"labelExpr":"utcmonth(datum.value) % 4 == 0 ? utcFormat(datum.value, '%-m/%y') : ''","title":null,"tickOpacity":{"condition":{"test":"utcmonth(datum.value) % 4 == 0","value":1},"value":0},"gridColor":{"condition":{"test":"utcmonth(datum.value) % 4 == 0","value":"#dedede"},"value":"#eeeeee"}}},
       "y":{"field":"value","type":"quantitative","scale":{"domain":[1934,2290],"nice":false,"zero":false},"axis":{"values":[1950,2000,2050,2100,2150,2200,2250],"labels":false,"title":null,"tickOpacity":{"condition":{"test":"datum.value % 100 == 0","value":1},"value":0},"gridColor":{"condition":{"test":"datum.value % 100 == 0","value":"#dedede"},"value":"#eeeeee"}}},
       "color":{"field":"type","type":"nominal","title":null,"scale":{"domain":["WS","WB","DS","DB"],"range":["#96c8f8","#0a2d5f","#f79a96","#980d0d"]},"legend":{"orient":"none","legendX":697,"legendY":482,"direction":"horizontal","labelExpr":"datum.label == 'WS' ? 'Wet season, Surface' : datum.label == 'WB' ? 'Wet season, Bottom' : datum.label == 'DS' ? 'Dry season, Surface' : 'Dry season, Bottom'","symbolType":"circle","symbolSize":50,"symbolStrokeWidth":0,"labelFontSize":14.5,"labelColor":"#333333","columnPadding":9,"labelOffset":3}}}},
    {"width":154,"height":163,"data":{"name":"pts"},"transform":[{"filter":"datum.site == 'PM' && datum.param == 'DIC'"}],"mark":{"type":"circle","size":32,"opacity":1},
     "encoding":{
       "x":{"field":"date","type":"temporal","scale":{"type":"utc","domain":[{"year":2014,"month":6,"date":9,"utc":true},{"year":2015,"month":9,"date":25,"utc":true}]},"axis":{"values":[{"year":2014,"month":7,"date":1,"utc":true},{"year":2014,"month":9,"date":1,"utc":true},{"year":2014,"month":11,"date":1,"utc":true},{"year":2015,"month":1,"date":1,"utc":true},{"year":2015,"month":3,"date":1,"utc":true},{"year":2015,"month":5,"date":1,"utc":true},{"year":2015,"month":7,"date":1,"utc":true},{"year":2015,"month":9,"date":1,"utc":true}],"labelAngle":270,"labelExpr":"utcmonth(datum.value) % 4 == 0 ? utcFormat(datum.value, '%-m/%y') : ''","title":null,"tickOpacity":{"condition":{"test":"utcmonth(datum.value) % 4 == 0","value":1},"value":0},"gridColor":{"condition":{"test":"utcmonth(datum.value) % 4 == 0","value":"#dedede"},"value":"#eeeeee"}}},
       "y":{"field":"value","type":"quantitative","scale":{"domain":[1934,2290],"nice":false,"zero":false},"axis":{"values":[1950,2000,2050,2100,2150,2200,2250],"labels":false,"title":null,"tickOpacity":{"condition":{"test":"datum.value % 100 == 0","value":1},"value":0},"gridColor":{"condition":{"test":"datum.value % 100 == 0","value":"#dedede"},"value":"#eeeeee"}}},
       "color":{"field":"type","type":"nominal","title":null,"scale":{"domain":["WS","WB","DS","DB"],"range":["#96c8f8","#0a2d5f","#f79a96","#980d0d"]},"legend":{"orient":"none","legendX":697,"legendY":482,"direction":"horizontal","labelExpr":"datum.label == 'WS' ? 'Wet season, Surface' : datum.label == 'WB' ? 'Wet season, Bottom' : datum.label == 'DS' ? 'Dry season, Surface' : 'Dry season, Bottom'","symbolType":"circle","symbolSize":50,"symbolStrokeWidth":0,"labelFontSize":14.5,"labelColor":"#333333","columnPadding":9,"labelOffset":3}}}},
    {"width":1,"height":163,"data":{"values":[]},"mark":"point","view":{"stroke":null,"fill":"#c8c8c8"}},
    {"width":1,"height":163,"data":{"values":[]},"mark":"point","view":{"stroke":null,"fill":"#3a3a3a"}},

    {"width":1,"height":55,"data":{"values":[]},"mark":"point","view":{"stroke":null,"fill":"#3a3a3a"}},
    {"width":1,"height":55,"data":{"values":[]},"mark":"point","view":{"stroke":null,"fill":"#c8c8c8"}},
    {"width":1,"height":1,"data":{"values":[]},"mark":"point","view":{"stroke":null}},
    {"width":1,"height":1,"data":{"values":[]},"mark":"point","view":{"stroke":null}},
    {"width":1,"height":1,"data":{"values":[]},"mark":"point","view":{"stroke":null}},
    {"width":1,"height":1,"data":{"values":[]},"mark":"point","view":{"stroke":null}},
    {"width":1,"height":55,"data":{"values":[]},"mark":"point","view":{"stroke":null,"fill":"#c8c8c8"}},
    {"width":1,"height":55,"data":{"values":[]},"mark":"point","view":{"stroke":null,"fill":"#c8c8c8"}},
    {"width":1,"height":1,"data":{"values":[]},"mark":"point","view":{"stroke":null}},
    {"width":1,"height":1,"data":{"values":[]},"mark":"point","view":{"stroke":null}},
    {"width":1,"height":1,"data":{"values":[]},"mark":"point","view":{"stroke":null}},
    {"width":1,"height":55,"data":{"values":[]},"mark":"point","view":{"stroke":null,"fill":"#c8c8c8"}},
    {"width":1,"height":55,"data":{"values":[]},"mark":"point","view":{"stroke":null,"fill":"#3a3a3a"}},

    {"width":1,"height":1,"data":{"values":[]},"mark":"point","view":{"stroke":null,"fill":"#3a3a3a"}},
    {"width":8,"height":1,"data":{"values":[]},"mark":"point","view":{"stroke":null,"fill":"#c8c8c8"}},
    {"width":174,"height":1,"data":{"values":[]},"mark":"point","view":{"stroke":null,"fill":"#c8c8c8"}},
    {"width":174,"height":1,"data":{"values":[]},"mark":"point","view":{"stroke":null,"fill":"#c8c8c8"}},
    {"width":174,"height":1,"data":{"values":[]},"mark":"point","view":{"stroke":null,"fill":"#c8c8c8"}},
    {"width":162,"height":1,"data":{"values":[]},"mark":"point","view":{"stroke":null,"fill":"#c8c8c8"}},
    {"width":1,"height":1,"data":{"values":[]},"mark":"point","view":{"stroke":null,"fill":"#c8c8c8"}},
    {"width":11,"height":1,"data":{"values":[]},"mark":"point","view":{"stroke":null,"fill":"#c8c8c8"}},
    {"width":172,"height":1,"data":{"values":[]},"mark":"point","view":{"stroke":null,"fill":"#c8c8c8"}},
    {"width":172,"height":1,"data":{"values":[]},"mark":"point","view":{"stroke":null,"fill":"#c8c8c8"}},
    {"width":169,"height":1,"data":{"values":[]},"mark":"point","view":{"stroke":null,"fill":"#c8c8c8"}},
    {"width":1,"height":1,"data":{"values":[]},"mark":"point","view":{"stroke":null,"fill":"#c8c8c8"}},
    {"width":1,"height":1,"data":{"values":[]},"mark":"point","view":{"stroke":null,"fill":"#3a3a3a"}},

    {"width":1,"height":30,"data":{"values":[]},"mark":"point","view":{"stroke":null,"fill":"#3a3a3a"}},
    {"width":1,"height":1,"data":{"values":[]},"mark":"point","view":{"stroke":null}},
    {"width":1,"height":1,"data":{"values":[]},"mark":"point","view":{"stroke":null}},
    {"width":1,"height":1,"data":{"values":[]},"mark":"point","view":{"stroke":null}},
    {"width":1,"height":1,"data":{"values":[]},"mark":"point","view":{"stroke":null}},
    {"width":1,"height":1,"data":{"values":[]},"mark":"point","view":{"stroke":null}},
    {"width":1,"height":1,"data":{"values":[]},"mark":"point","view":{"stroke":null}},
    {"width":1,"height":1,"data":{"values":[]},"mark":"point","view":{"stroke":null}},
    {"width":1,"height":1,"data":{"values":[]},"mark":"point","view":{"stroke":null}},
    {"width":1,"height":1,"data":{"values":[]},"mark":"point","view":{"stroke":null}},
    {"width":1,"height":1,"data":{"values":[]},"mark":"point","view":{"stroke":null}},
    {"width":1,"height":1,"data":{"values":[]},"mark":"point","view":{"stroke":null}},
    {"width":1,"height":30,"data":{"values":[]},"mark":"point","view":{"stroke":null,"fill":"#3a3a3a"}}
  ]
}
